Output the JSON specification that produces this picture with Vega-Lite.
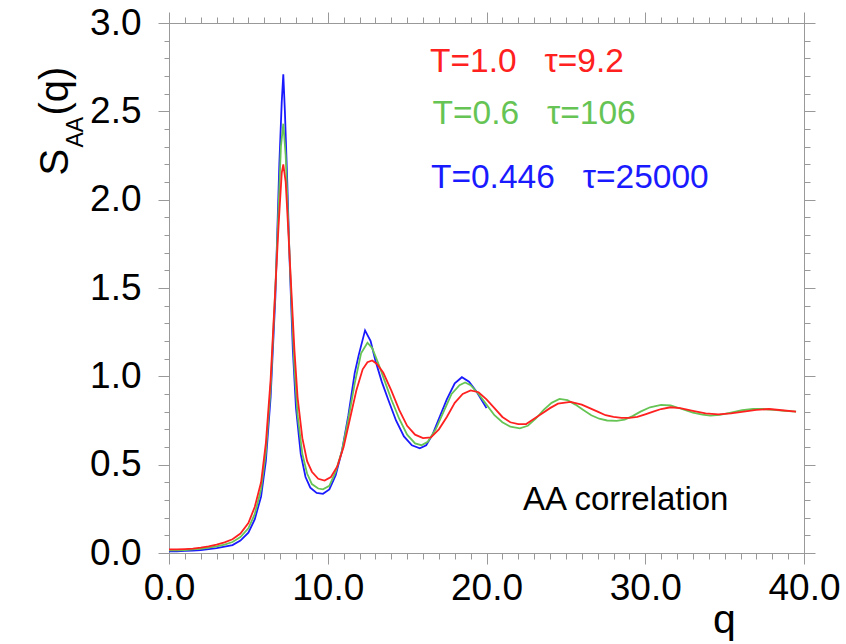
{
  "$schema": "https://vega.github.io/schema/vega-lite/v6.json",
  "width": 635,
  "height": 530,
  "autosize": "none",
  "padding": {"left": 169, "top": 23, "right": 42, "bottom": 91},
  "background": "white",
  "config": {
    "font": "Liberation Sans",
    "view": {"stroke": null},
    "axis": {"domainColor": "#999999", "tickColor": "#999999", "grid": false, "domainWidth": 1, "tickWidth": 1, "labelFont": "Liberation Sans", "titleFont": "Liberation Sans", "labelColor": "#000000", "titleColor": "#000000", "titleFontWeight": "normal", "labelFlush": false, "labelOverlap": false}
  },
  "datasets": {
    "curves": [
      {"T": "0.446", "q": 0.0, "S": 0.01}, {"T": "0.446", "q": 0.5, "S": 0.01}, {"T": "0.446", "q": 1.0, "S": 0.012}, {"T": "0.446", "q": 1.5, "S": 0.014}, {"T": "0.446", "q": 2.0, "S": 0.017}, {"T": "0.446", "q": 2.5, "S": 0.022}, {"T": "0.446", "q": 3.0, "S": 0.028}, {"T": "0.446", "q": 3.5, "S": 0.036}, {"T": "0.446", "q": 4.0, "S": 0.045}, {"T": "0.446", "q": 4.5, "S": 0.07}, {"T": "0.446", "q": 5.0, "S": 0.115}, {"T": "0.446", "q": 5.4, "S": 0.19}, {"T": "0.446", "q": 5.8, "S": 0.32}, {"T": "0.446", "q": 6.1, "S": 0.52}, {"T": "0.446", "q": 6.4, "S": 0.88}, {"T": "0.446", "q": 6.7, "S": 1.45}, {"T": "0.446", "q": 6.85, "S": 1.9}, {"T": "0.446", "q": 6.95, "S": 2.2}, {"T": "0.446", "q": 7.1, "S": 2.55}, {"T": "0.446", "q": 7.2, "S": 2.71}, {"T": "0.446", "q": 7.3, "S": 2.5}, {"T": "0.446", "q": 7.45, "S": 2.1}, {"T": "0.446", "q": 7.6, "S": 1.65}, {"T": "0.446", "q": 7.8, "S": 1.15}, {"T": "0.446", "q": 8.0, "S": 0.82}, {"T": "0.446", "q": 8.3, "S": 0.56}, {"T": "0.446", "q": 8.6, "S": 0.43}, {"T": "0.446", "q": 8.9, "S": 0.37}, {"T": "0.446", "q": 9.3, "S": 0.34}, {"T": "0.446", "q": 9.7, "S": 0.335}, {"T": "0.446", "q": 10.1, "S": 0.36}, {"T": "0.446", "q": 10.5, "S": 0.44}, {"T": "0.446", "q": 10.9, "S": 0.58}, {"T": "0.446", "q": 11.3, "S": 0.78}, {"T": "0.446", "q": 11.7, "S": 1.02}, {"T": "0.446", "q": 11.95, "S": 1.12}, {"T": "0.446", "q": 12.35, "S": 1.26}, {"T": "0.446", "q": 12.7, "S": 1.2}, {"T": "0.446", "q": 13.0, "S": 1.09}, {"T": "0.446", "q": 13.4, "S": 0.97}, {"T": "0.446", "q": 13.8, "S": 0.87}, {"T": "0.446", "q": 14.3, "S": 0.75}, {"T": "0.446", "q": 14.8, "S": 0.66}, {"T": "0.446", "q": 15.3, "S": 0.61}, {"T": "0.446", "q": 15.8, "S": 0.593}, {"T": "0.446", "q": 16.2, "S": 0.61}, {"T": "0.446", "q": 16.6, "S": 0.67}, {"T": "0.446", "q": 17.0, "S": 0.76}, {"T": "0.446", "q": 17.5, "S": 0.87}, {"T": "0.446", "q": 18.0, "S": 0.96}, {"T": "0.446", "q": 18.45, "S": 0.995}, {"T": "0.446", "q": 18.9, "S": 0.97}, {"T": "0.446", "q": 19.4, "S": 0.91}, {"T": "0.446", "q": 20.0, "S": 0.82},
      {"T": "0.6", "q": 0.0, "S": 0.015}, {"T": "0.6", "q": 0.5, "S": 0.015}, {"T": "0.6", "q": 1.0, "S": 0.017}, {"T": "0.6", "q": 1.5, "S": 0.02}, {"T": "0.6", "q": 2.0, "S": 0.024}, {"T": "0.6", "q": 2.5, "S": 0.03}, {"T": "0.6", "q": 3.0, "S": 0.038}, {"T": "0.6", "q": 3.5, "S": 0.048}, {"T": "0.6", "q": 4.0, "S": 0.062}, {"T": "0.6", "q": 4.5, "S": 0.09}, {"T": "0.6", "q": 5.0, "S": 0.14}, {"T": "0.6", "q": 5.4, "S": 0.22}, {"T": "0.6", "q": 5.8, "S": 0.36}, {"T": "0.6", "q": 6.1, "S": 0.57}, {"T": "0.6", "q": 6.4, "S": 0.93}, {"T": "0.6", "q": 6.7, "S": 1.5}, {"T": "0.6", "q": 6.9, "S": 1.95}, {"T": "0.6", "q": 7.05, "S": 2.3}, {"T": "0.6", "q": 7.2, "S": 2.43}, {"T": "0.6", "q": 7.35, "S": 2.25}, {"T": "0.6", "q": 7.5, "S": 1.9}, {"T": "0.6", "q": 7.7, "S": 1.45}, {"T": "0.6", "q": 7.9, "S": 1.05}, {"T": "0.6", "q": 8.1, "S": 0.78}, {"T": "0.6", "q": 8.4, "S": 0.56}, {"T": "0.6", "q": 8.7, "S": 0.45}, {"T": "0.6", "q": 9.0, "S": 0.39}, {"T": "0.6", "q": 9.4, "S": 0.365}, {"T": "0.6", "q": 9.7, "S": 0.36}, {"T": "0.6", "q": 10.1, "S": 0.38}, {"T": "0.6", "q": 10.5, "S": 0.46}, {"T": "0.6", "q": 10.9, "S": 0.58}, {"T": "0.6", "q": 11.3, "S": 0.76}, {"T": "0.6", "q": 11.7, "S": 0.96}, {"T": "0.6", "q": 12.1, "S": 1.13}, {"T": "0.6", "q": 12.5, "S": 1.19}, {"T": "0.6", "q": 12.8, "S": 1.16}, {"T": "0.6", "q": 13.2, "S": 1.07}, {"T": "0.6", "q": 13.6, "S": 0.97}, {"T": "0.6", "q": 14.0, "S": 0.87}, {"T": "0.6", "q": 14.5, "S": 0.76}, {"T": "0.6", "q": 15.0, "S": 0.67}, {"T": "0.6", "q": 15.5, "S": 0.62}, {"T": "0.6", "q": 15.9, "S": 0.61}, {"T": "0.6", "q": 16.3, "S": 0.63}, {"T": "0.6", "q": 16.8, "S": 0.7}, {"T": "0.6", "q": 17.3, "S": 0.8}, {"T": "0.6", "q": 17.8, "S": 0.9}, {"T": "0.6", "q": 18.3, "S": 0.95}, {"T": "0.6", "q": 18.65, "S": 0.965}, {"T": "0.6", "q": 19.0, "S": 0.95}, {"T": "0.6", "q": 19.5, "S": 0.9}, {"T": "0.6", "q": 20.0, "S": 0.84}, {"T": "0.6", "q": 20.5, "S": 0.78}, {"T": "0.6", "q": 21.0, "S": 0.74}, {"T": "0.6", "q": 21.5, "S": 0.715}, {"T": "0.6", "q": 22.1, "S": 0.706}, {"T": "0.6", "q": 22.6, "S": 0.72}, {"T": "0.6", "q": 23.1, "S": 0.76}, {"T": "0.6", "q": 23.6, "S": 0.81}, {"T": "0.6", "q": 24.1, "S": 0.85}, {"T": "0.6", "q": 24.6, "S": 0.872}, {"T": "0.6", "q": 25.1, "S": 0.865}, {"T": "0.6", "q": 25.6, "S": 0.84}, {"T": "0.6", "q": 26.1, "S": 0.81}, {"T": "0.6", "q": 26.6, "S": 0.78}, {"T": "0.6", "q": 27.1, "S": 0.76}, {"T": "0.6", "q": 27.6, "S": 0.75}, {"T": "0.6", "q": 28.2, "S": 0.748}, {"T": "0.6", "q": 28.7, "S": 0.755}, {"T": "0.6", "q": 29.2, "S": 0.775}, {"T": "0.6", "q": 29.7, "S": 0.8}, {"T": "0.6", "q": 30.3, "S": 0.825}, {"T": "0.6", "q": 31.0, "S": 0.838}, {"T": "0.6", "q": 31.6, "S": 0.835}, {"T": "0.6", "q": 32.3, "S": 0.815}, {"T": "0.6", "q": 33.0, "S": 0.795}, {"T": "0.6", "q": 33.6, "S": 0.783}, {"T": "0.6", "q": 34.1, "S": 0.778}, {"T": "0.6", "q": 34.7, "S": 0.782}, {"T": "0.6", "q": 35.4, "S": 0.795}, {"T": "0.6", "q": 36.1, "S": 0.808}, {"T": "0.6", "q": 36.8, "S": 0.815}, {"T": "0.6", "q": 37.4, "S": 0.815}, {"T": "0.6", "q": 38.1, "S": 0.81}, {"T": "0.6", "q": 38.8, "S": 0.805}, {"T": "0.6", "q": 39.5, "S": 0.8},
      {"T": "1.0", "q": 0.0, "S": 0.02}, {"T": "1.0", "q": 0.5, "S": 0.02}, {"T": "1.0", "q": 1.0, "S": 0.022}, {"T": "1.0", "q": 1.5, "S": 0.025}, {"T": "1.0", "q": 2.0, "S": 0.03}, {"T": "1.0", "q": 2.5, "S": 0.037}, {"T": "1.0", "q": 3.0, "S": 0.047}, {"T": "1.0", "q": 3.5, "S": 0.06}, {"T": "1.0", "q": 4.0, "S": 0.078}, {"T": "1.0", "q": 4.5, "S": 0.11}, {"T": "1.0", "q": 5.0, "S": 0.17}, {"T": "1.0", "q": 5.4, "S": 0.26}, {"T": "1.0", "q": 5.8, "S": 0.4}, {"T": "1.0", "q": 6.1, "S": 0.62}, {"T": "1.0", "q": 6.4, "S": 0.98}, {"T": "1.0", "q": 6.7, "S": 1.5}, {"T": "1.0", "q": 6.9, "S": 1.85}, {"T": "1.0", "q": 7.1, "S": 2.15}, {"T": "1.0", "q": 7.2, "S": 2.2}, {"T": "1.0", "q": 7.35, "S": 2.1}, {"T": "1.0", "q": 7.5, "S": 1.85}, {"T": "1.0", "q": 7.7, "S": 1.5}, {"T": "1.0", "q": 7.9, "S": 1.15}, {"T": "1.0", "q": 8.1, "S": 0.88}, {"T": "1.0", "q": 8.4, "S": 0.65}, {"T": "1.0", "q": 8.7, "S": 0.52}, {"T": "1.0", "q": 9.0, "S": 0.46}, {"T": "1.0", "q": 9.4, "S": 0.42}, {"T": "1.0", "q": 9.8, "S": 0.41}, {"T": "1.0", "q": 10.2, "S": 0.43}, {"T": "1.0", "q": 10.6, "S": 0.49}, {"T": "1.0", "q": 11.0, "S": 0.6}, {"T": "1.0", "q": 11.4, "S": 0.76}, {"T": "1.0", "q": 11.8, "S": 0.92}, {"T": "1.0", "q": 12.2, "S": 1.04}, {"T": "1.0", "q": 12.5, "S": 1.08}, {"T": "1.0", "q": 12.8, "S": 1.09}, {"T": "1.0", "q": 13.1, "S": 1.07}, {"T": "1.0", "q": 13.5, "S": 1.02}, {"T": "1.0", "q": 14.0, "S": 0.92}, {"T": "1.0", "q": 14.5, "S": 0.81}, {"T": "1.0", "q": 15.0, "S": 0.72}, {"T": "1.0", "q": 15.5, "S": 0.67}, {"T": "1.0", "q": 16.0, "S": 0.65}, {"T": "1.0", "q": 16.5, "S": 0.655}, {"T": "1.0", "q": 17.0, "S": 0.7}, {"T": "1.0", "q": 17.5, "S": 0.77}, {"T": "1.0", "q": 18.0, "S": 0.85}, {"T": "1.0", "q": 18.5, "S": 0.9}, {"T": "1.0", "q": 19.0, "S": 0.92}, {"T": "1.0", "q": 19.5, "S": 0.91}, {"T": "1.0", "q": 20.0, "S": 0.87}, {"T": "1.0", "q": 20.5, "S": 0.82}, {"T": "1.0", "q": 21.0, "S": 0.77}, {"T": "1.0", "q": 21.5, "S": 0.74}, {"T": "1.0", "q": 22.0, "S": 0.73}, {"T": "1.0", "q": 22.5, "S": 0.73}, {"T": "1.0", "q": 23.0, "S": 0.76}, {"T": "1.0", "q": 23.5, "S": 0.79}, {"T": "1.0", "q": 24.0, "S": 0.82}, {"T": "1.0", "q": 24.5, "S": 0.845}, {"T": "1.0", "q": 25.3, "S": 0.855}, {"T": "1.0", "q": 26.0, "S": 0.84}, {"T": "1.0", "q": 26.5, "S": 0.82}, {"T": "1.0", "q": 27.0, "S": 0.8}, {"T": "1.0", "q": 27.5, "S": 0.78}, {"T": "1.0", "q": 28.0, "S": 0.77}, {"T": "1.0", "q": 28.5, "S": 0.765}, {"T": "1.0", "q": 29.0, "S": 0.765}, {"T": "1.0", "q": 29.5, "S": 0.77}, {"T": "1.0", "q": 30.0, "S": 0.785}, {"T": "1.0", "q": 30.5, "S": 0.8}, {"T": "1.0", "q": 31.0, "S": 0.815}, {"T": "1.0", "q": 31.6, "S": 0.825}, {"T": "1.0", "q": 32.2, "S": 0.82}, {"T": "1.0", "q": 33.0, "S": 0.805}, {"T": "1.0", "q": 33.8, "S": 0.79}, {"T": "1.0", "q": 34.6, "S": 0.785}, {"T": "1.0", "q": 35.4, "S": 0.79}, {"T": "1.0", "q": 36.2, "S": 0.8}, {"T": "1.0", "q": 37.0, "S": 0.81}, {"T": "1.0", "q": 37.8, "S": 0.815}, {"T": "1.0", "q": 38.6, "S": 0.808}, {"T": "1.0", "q": 39.5, "S": 0.8}
    ],
    "legendText": [
      {"T": "1.0", "q": 16.44, "S": 2.724, "label": "T=1.0\u00a0\u00a0\u00a0τ=9.2"},
      {"T": "0.6", "q": 16.6, "S": 2.428, "label": "T=0.6\u00a0\u00a0\u00a0τ=106"},
      {"T": "0.446", "q": 16.5, "S": 2.066, "label": "T=0.446\u00a0\u00a0\u00a0τ=25000"}
    ],
    "note": [
      {"q": 22.3, "S": 0.243, "label": "AA correlation"}
    ]
  },
  "resolve": {"axis": {"x": "independent", "y": "independent"}},
  "layer": [
    {
      "data": {"name": "curves"},
      "mark": {"type": "line", "strokeWidth": 1.8, "clip": true},
      "encoding": {
        "x": {"field": "q", "type": "quantitative", "scale": {"domain": [0, 40], "nice": false, "zero": false},
          "axis": {"orient": "bottom", "values": [0, 10, 20, 30, 40], "format": ".1f", "tickSize": 11, "labelFontSize": 37, "labelPadding": 6, "title": "q", "titleFontSize": 41, "titleX": 555, "titleY": 79, "titleAlign": "center", "titleBaseline": "alphabetic", "titleAngle": 0}},
        "y": {"field": "S", "type": "quantitative", "scale": {"domain": [0, 3], "nice": false, "zero": false},
          "axis": {"orient": "left", "values": [0, 0.5, 1, 1.5, 2, 2.5, 3], "format": ".1f", "tickSize": 11, "labelFontSize": 37, "labelPadding": 17, "title": "S", "titleFontSize": 40, "titleX": -102, "titleY": 152, "titleAngle": 270, "titleAlign": "left", "titleBaseline": "alphabetic"}},
        "color": {"field": "T", "type": "nominal", "scale": {"domain": ["0.446", "0.6", "1.0"], "range": ["#1a1aff", "#66c455", "#ff2020"]}, "legend": null},
        "order": {"field": "q", "type": "quantitative"}
      }
    },
    {
      "data": {"name": "legendText"},
      "mark": {"type": "text", "fontSize": 33.5, "align": "left", "baseline": "alphabetic", "font": "Liberation Sans"},
      "encoding": {
        "x": {"field": "q", "type": "quantitative", "scale": {"domain": [0, 40], "nice": false, "zero": false},
          "axis": {"orient": "bottom", "values": [0,1,2,3,4,5,6,7,8,9,10,11,12,13,14,15,16,17,18,19,20,21,22,23,24,25,26,27,28,29,30,31,32,33,34,35,36,37,38,39,40], "tickSize": 6, "labels": false, "title": null}},
        "y": {"field": "S", "type": "quantitative", "scale": {"domain": [0, 3], "nice": false, "zero": false},
          "axis": {"orient": "left", "values": [0,0.1,0.2,0.3,0.4,0.5,0.6,0.7,0.8,0.9,1,1.1,1.2,1.3,1.4,1.5,1.6,1.7,1.8,1.9,2,2.1,2.2,2.3,2.4,2.5,2.6,2.7,2.8,2.9,3], "tickSize": 5, "labels": false, "title": "AA", "titleFontSize": 23, "titleX": -87, "titleY": 124, "titleAngle": 270, "titleAlign": "left", "titleBaseline": "alphabetic"}},
        "text": {"field": "label"},
        "color": {"field": "T", "type": "nominal", "legend": null}
      }
    },
    {
      "data": {"name": "note"},
      "mark": {"type": "text", "fontSize": 33, "align": "left", "baseline": "alphabetic", "color": "#000000", "font": "Liberation Sans"},
      "encoding": {
        "x": {"field": "q", "type": "quantitative", "scale": {"domain": [0, 40], "nice": false, "zero": false},
          "axis": {"orient": "top", "values": [0, 10, 20, 30, 40], "tickSize": 11, "labels": false, "title": null}},
        "y": {"field": "S", "type": "quantitative", "scale": {"domain": [0, 3], "nice": false, "zero": false},
          "axis": {"orient": "right", "values": [0, 0.5, 1, 1.5, 2, 2.5, 3], "tickSize": 11, "labels": false, "title": null}},
        "text": {"field": "label"}
      }
    },
    {
      "data": {"name": "note"},
      "mark": {"type": "point", "opacity": 0},
      "encoding": {
        "x": {"field": "q", "type": "quantitative", "scale": {"domain": [0, 40], "nice": false, "zero": false},
          "axis": {"orient": "top", "values": [0,1,2,3,4,5,6,7,8,9,10,11,12,13,14,15,16,17,18,19,20,21,22,23,24,25,26,27,28,29,30,31,32,33,34,35,36,37,38,39,40], "tickSize": 6, "labels": false, "title": null}},
        "y": {"field": "S", "type": "quantitative", "scale": {"domain": [0, 3], "nice": false, "zero": false},
          "axis": {"orient": "right", "values": [0,0.1,0.2,0.3,0.4,0.5,0.6,0.7,0.8,0.9,1,1.1,1.2,1.3,1.4,1.5,1.6,1.7,1.8,1.9,2,2.1,2.2,2.3,2.4,2.5,2.6,2.7,2.8,2.9,3], "tickSize": 6, "labels": false, "title": null}}
      }
    },
    {
      "data": {"name": "note"},
      "mark": {"type": "point", "opacity": 0},
      "encoding": {
        "x": {"field": "q", "type": "quantitative", "scale": {"domain": [0, 40], "nice": false, "zero": false}, "axis": null},
        "y": {"field": "S", "type": "quantitative", "scale": {"domain": [0, 3], "nice": false, "zero": false},
          "axis": {"orient": "left", "domain": false, "ticks": false, "labels": false, "title": "(q)", "titleFontSize": 40, "titleX": -102, "titleY": 92, "titleAngle": 270, "titleAlign": "left", "titleBaseline": "alphabetic"}}
      }
    }
  ]
}
